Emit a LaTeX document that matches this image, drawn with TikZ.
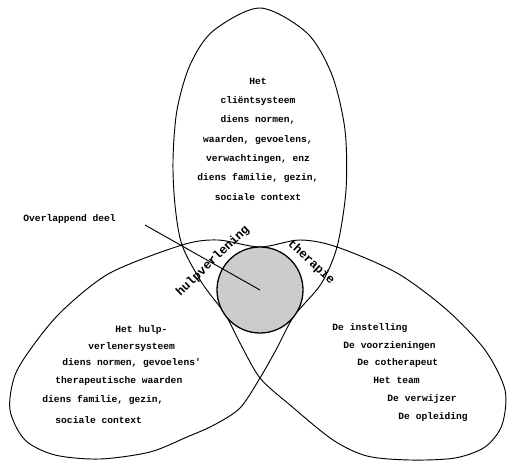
\documentclass[tikz,border=0pt]{standalone}
\usepackage{fontspec}
\setmonofont{Liberation Mono}
\begin{document}
\begin{tikzpicture}[x=0.3mm, y=-0.3mm, line width=0.8pt,
    tekst/.style={font=\ttfamily\bfseries\fontsize{8.2}{16.5}\selectfont, inner sep=0pt},
    regel/.style={tekst, anchor=west, text height=6pt, text depth=1.5pt},
    lusnaam/.style={font=\ttfamily\bfseries\fontsize{10.5}{12}\selectfont, inner sep=0pt}]
    \useasboundingbox (0,0) rectangle (509,461);
    % de drie lussen als een doorlopende lijn
    \draw plot[smooth cycle] coordinates {
        (260,378) (240,343) (225,314) (202,283) (182,245) (175,205) (173,160)
        (177,110) (190,65) (213,31) (260,8) (307,33) (332,75) (345,130)
        (346,190) (337,247) (321,284) (294,316) (277,348)
        (260,378) (240,408) (214,425) (187,437) (150,452) (100,459) (55,455)
        (25,440) (10,410) (15,375) (35,343) (63,310) (110,273) (182,245)
        (218,240) (260,247) (300,240) (337,247) (397,273) (447,310) (485,350)
        (505,390) (502,425) (485,447) (455,458) (410,460) (367,456) (333,440)
        (290,405)};
    \node[draw, circle, line width=1.1pt, fill=black!20, minimum size=25.8mm, inner sep=0pt] (kern) at (260,290) {};
    \coordinate (wijzer) at (145,225);
    \draw (wijzer) -- (kern.center);
    \node[regel] (overlap) at (23,219) {Overlappend deel};
    \node[lusnaam, rotate=44] (hulp) at (213,261) {hulpverlening};
    \node[lusnaam, rotate=-43] (ther) at (311,262) {therapie};
    \node[tekst, align=center] (client) at (258,139) {Het\\cliëntsysteem\\diens normen,\\waarden, gevoelens,\\verwachtingen, enz\\diens familie, gezin,\\sociale context};
    \foreach \x/\y/\t [count=\i] in {115/330/{Het hulp-}, 88/347/{verlenersysteem},
        62/363/{diens normen, gevoelens'}, 55/381/{therapeutische waarden},
        42/400/{diens familie, gezin,}, 55/421/{sociale context}}
        \node[regel] (hv\i) at (\x,\y) {\t};
    \foreach \x/\y/\t [count=\i] in {332/328/{De instelling}, 343/346/{De voorzieningen},
        357/363/{De cotherapeut}, 373/381/{Het team}, 387/399/{De verwijzer},
        398/417/{De opleiding}}
        \node[regel] (inst\i) at (\x,\y) {\t};
\end{tikzpicture}
\end{document}
